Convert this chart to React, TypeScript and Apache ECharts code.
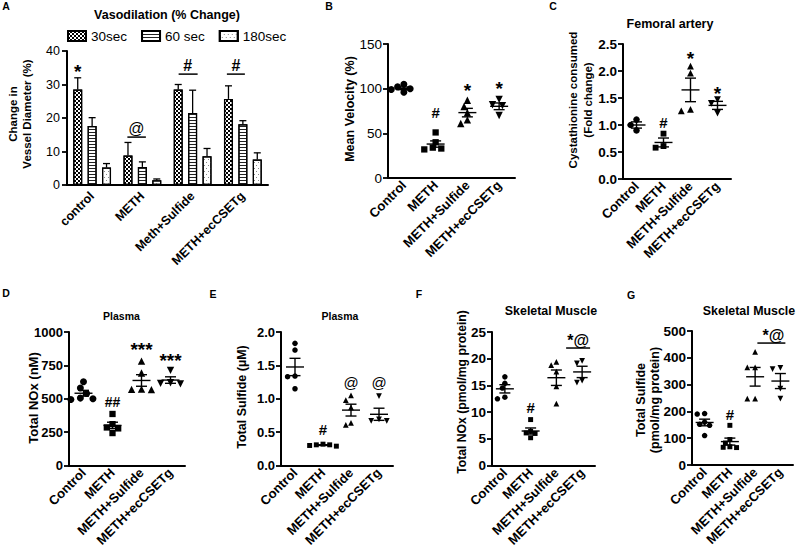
import React, { useEffect, useRef } from "react";
import * as echarts from "echarts";

const FONT = "'Liberation Sans', Arial, Helvetica, sans-serif";

// ---------- Panel A : vasodilation (bar + SEM) ----------
const categoriesA = ["control", "METH", "Meth+Sulfide", "METH+ecCSETg"];
const durationsA = ["30sec", "60 sec", "180sec"];
const vaso30sec = [28.5, 8.8, 28.5, 25.7];
const vaso30secErr = [3.5, 3.9, 1.5, 3.9];
const vaso60sec = [17.6, 5.4, 21.5, 18.1];
const vaso60secErr = [2.5, 1.5, 6.8, 1.1];
const vaso180sec = [5.2, 1.4, 8.6, 7.6];
const vaso180secErr = [1.2, 0.4, 2.3, 2.0];
const ticksA = [0, 10, 20, 30, 40];

// ---------- Scatter panels ----------
const groups = ["Control", "METH", "METH+Sulfide", "METH+ecCSETg"];

// B: Mean velocity (%)
const velocityControl = [105, 102, 99, 96, 100];
const velocityMeth = [51, 40, 33, 32, 34];
const velocitySulfide = [87, 80, 73, 65, 61];
const velocityEcCSETg = [88, 82, 81, 70];
const ticksB = [0, 50, 100, 150];

// C: Cystathionine consumed (fold change)
const cystControl = [1.1, 1.0, 0.9];
const cystMeth = [0.84, 0.61, 0.58];
const cystSulfide = [2.09, 1.96, 1.29, 1.26];
const cystEcCSETg = [1.47, 1.4, 1.22];
const ticksC = [0, 0.5, 1.0, 1.5, 2.0, 2.5];

// D: Plasma total NOx (nM)
const plasmaNoxControl = [628, 580, 540, 495, 500, 505];
const plasmaNoxMeth = [386, 310, 285, 278, 243];
const plasmaNoxSulfide = [782, 693, 570, 568, 572];
const plasmaNoxEcCSETg = [713, 615, 620, 612];
const ticksD = [0, 250, 500, 750, 1000];

// E: Plasma total sulfide (uM)
const plasmaSulfideControl = [1.83, 1.73, 1.34, 1.33, 1.15];
const plasmaSulfideMeth = [0.32, 0.31, 0.3, 0.31, 0.29];
const plasmaSulfideSulfide = [1.05, 0.98, 0.87, 0.61, 0.64];
const plasmaSulfideEcCSETg = [1.04, 0.67, 0.69, 0.67];
const ticksE = [0, 0.5, 1.0, 1.5, 2.0];

// F: Skeletal muscle total NOx (pmol/mg protein)
const muscleNoxControl = [16.6, 15.4, 14.5, 12.8, 12.5];
const muscleNoxMeth = [8.6, 6.4, 6.0, 5.2, 6.1];
const muscleNoxSulfide = [19.4, 18.8, 17.6, 14.8, 11.6];
const muscleNoxEcCSETg = [19.1, 19.6, 15.5, 15.9];
const ticksF = [0, 5, 10, 15, 20, 25];

// G: Skeletal muscle total sulfide (pmol/mg protein)
const muscleSulfideControl = [192, 190, 160, 152, 148, 110];
const muscleSulfideMeth = [148, 95, 82, 68, 66, 65];
const muscleSulfideSulfide = [422, 364, 364, 248, 248];
const muscleSulfideEcCSETg = [362, 358, 285, 248];
const ticksG = [0, 100, 200, 300, 400, 500];

// ---------- layout / style ----------
const BAR_W = 9;
const BAR_GAP = 0.6;
const MEAN_HALF = 9;
const CAP_HALF = 5.5;

const gridA = { left: 67, top: 51, width: 201, height: 134 };

const scatterPanels = [
  { grid: { left: 388, top: 44, width: 127, height: 134 }, ticks: ticksB, decimals: 0, size: 7, tickBold: false, tickSize: 13.5, sets: [velocityControl, velocityMeth, velocitySulfide, velocityEcCSETg] },
  { grid: { left: 623, top: 44, width: 108, height: 135 }, ticks: ticksC, decimals: 1, size: 6.5, tickBold: true, tickSize: 13.5, sets: [cystControl, cystMeth, cystSulfide, cystEcCSETg] },
  { grid: { left: 69, top: 332, width: 116, height: 134 }, ticks: ticksD, decimals: 0, size: 7, tickBold: true, tickSize: 13, sets: [plasmaNoxControl, plasmaNoxMeth, plasmaNoxSulfide, plasmaNoxEcCSETg] },
  { grid: { left: 281, top: 332, width: 112, height: 135 }, ticks: ticksE, decimals: 1, size: 5.5, tickBold: true, tickSize: 13, sets: [plasmaSulfideControl, plasmaSulfideMeth, plasmaSulfideSulfide, plasmaSulfideEcCSETg] },
  { grid: { left: 492, top: 332, width: 103, height: 135 }, ticks: ticksF, decimals: 0, size: 5.5, tickBold: true, tickSize: 13.5, sets: [muscleNoxControl, muscleNoxMeth, muscleNoxSulfide, muscleNoxEcCSETg] },
  { grid: { left: 692, top: 331, width: 101, height: 134 }, ticks: ticksG, decimals: 0, size: 5.5, tickBold: true, tickSize: 13.5, sets: [muscleSulfideControl, muscleSulfideMeth, muscleSulfideSulfide, muscleSulfideEcCSETg] },
];

const groupSymbols = ["circle", "rect", "triangle", "triangle"];
const groupRotate = [0, 0, 0, 180];
const groupScale = [1, 0.9, 1.05, 1.05];

const decals: any[] = [
  { symbol: "rect", symbolSize: 1, dashArrayX: [[2, 2], [0, 2, 2, 0]], dashArrayY: [2, 0], color: "#000", backgroundColor: "#fff" },
  { symbol: "rect", symbolSize: 1, dashArrayX: [1, 0], dashArrayY: [1, 1.5], color: "#222", backgroundColor: "#fff" },
  { symbol: "rect", symbolSize: 1, dashArrayX: [[1, 3], [0, 2, 1, 1]], dashArrayY: [1, 1.5], color: "#888", backgroundColor: "#fff" },
];

// annotation placement (value-space anchors + pixel nudges)
const annotations: any[] = [
  { grid: 0, cat: 0, value: 33.9, dx: -14.4, text: "*", size: 19 },
  { grid: 0, cat: 1, value: 17, dx: -6, text: "@", size: 16, bold: false, line: { value: 14.3, from: -15, to: 3.5 } },
  { grid: 0, cat: 2, value: 35.8, dx: -5, text: "#", size: 16, line: { value: 33.1, from: -14, to: 5 } },
  { grid: 0, cat: 3, value: 35.8, dx: -7, text: "#", size: 16, line: { value: 33.1, from: -16, to: 2 } },
  { grid: 1, cat: 1, value: 72.8, text: "#", size: 15 },
  { grid: 1, cat: 2, value: 98, text: "*", size: 19 },
  { grid: 1, cat: 3, value: 100.2, text: "*", size: 19 },
  { grid: 2, cat: 1, value: 1.04, text: "#", size: 15 },
  { grid: 2, cat: 2, value: 2.23, text: "*", size: 19 },
  { grid: 2, cat: 3, value: 1.58, text: "*", size: 19 },
  { grid: 3, cat: 1, value: 478, text: "##", size: 14 },
  { grid: 3, cat: 2, value: 869, text: "***", size: 19 },
  { grid: 3, cat: 3, value: 787, text: "***", size: 19 },
  { grid: 4, cat: 1, value: 0.544, text: "#", size: 15 },
  { grid: 4, cat: 2, value: 1.24, text: "@", size: 15, bold: false },
  { grid: 4, cat: 3, value: 1.25, text: "@", size: 15, bold: false },
  { grid: 5, cat: 1, value: 10.9, text: "#", size: 15 },
  { grid: 5, cat: 3, value: 23.45, dx: -4, text: "*@", size: 16, line: { value: 22.0, from: -16, to: 8 } },
  { grid: 6, cat: 1, value: 187, text: "#", size: 15 },
  { grid: 6, cat: 3, value: 485, dx: -7, text: "*@", size: 16, line: { value: 455, from: -23, to: 5 } },
];

const mean = (a: number[]) => a.reduce((s, v) => s + v, 0) / a.length;
const sem = (a: number[]) => {
  const m = mean(a);
  const sd = Math.sqrt(a.reduce((s, v) => s + (v - m) * (v - m), 0) / (a.length - 1));
  return sd / Math.sqrt(a.length);
};

// simple beeswarm: horizontal pixel offsets so markers barely overlap
function swarm(values: number[], pxPerUnit: number, size: number): number[] {
  const order = values.map((_, i) => i).sort((a, b) => values[b] - values[a]);
  const placed: { x: number; y: number }[] = [];
  const offsets = new Array(values.length).fill(0);
  const step = size * 0.9;
  const minD = size * 0.95;
  const cands = [0, -0.5, 0.5, -1, 1, -1.5, 1.5, -2, 2, -2.5, 2.5, -3, 3].map((k) => k * step);
  for (const i of order) {
    const y = values[i] * pxPerUnit;
    for (const x of cands) {
      if (placed.every((p) => Math.hypot(p.x - x, p.y - y) >= minD)) {
        offsets[i] = x;
        placed.push({ x, y });
        break;
      }
    }
  }
  return offsets;
}

function valueAxis(gridIndex: number, ticks: number[], decimals: number, fontSize: number, bold: boolean, margin: number) {
  return {
    type: "value",
    gridIndex,
    min: ticks[0],
    max: ticks[ticks.length - 1],
    interval: ticks[1] - ticks[0],
    axisLine: { show: true, lineStyle: { color: "#000", width: 2 } },
    axisTick: { show: true, length: 5, lineStyle: { color: "#000", width: 1.8 } },
    splitLine: { show: false },
    axisLabel: {
      color: "#000",
      fontFamily: FONT,
      fontSize,
      fontWeight: bold ? "bold" : "normal",
      margin,
      formatter: (v: number) => v.toFixed(decimals),
    },
  };
}

function categoryAxis(gridIndex: number, data: string[], fontSize: number, margin: number) {
  return {
    type: "category",
    gridIndex,
    data,
    boundaryGap: true,
    axisLine: { show: true, onZero: false, lineStyle: { color: "#000", width: 2 } },
    axisTick: { show: false },
    axisLabel: {
      interval: 0,
      rotate: 45,
      color: "#000",
      fontFamily: FONT,
      fontWeight: "bold",
      fontSize,
      margin,
    },
  };
}

function buildOption() {
  const grids: any[] = [gridA, ...scatterPanels.map((p) => p.grid)];
  const xAxis: any[] = [categoryAxis(0, categoriesA, 12.5, 9)];
  const yAxis: any[] = [valueAxis(0, ticksA, 0, 12.5, false, 7)];
  const series: any[] = [];

  const barSets = [vaso30sec, vaso60sec, vaso180sec];
  const errSets = [vaso30secErr, vaso60secErr, vaso180secErr];
  barSets.forEach((vals, k) => {
    series.push({
      type: "bar",
      name: durationsA[k],
      xAxisIndex: 0,
      yAxisIndex: 0,
      data: vals,
      barWidth: BAR_W,
      barGap: `${BAR_GAP * 100}%`,
      itemStyle: { color: "#fff", borderColor: "#000", borderWidth: 1.2, decal: decals[k] },
      z: 2,
    });
  });
  const errData: number[][] = [];
  barSets.forEach((vals, k) => vals.forEach((v, i) => errData.push([i, v, errSets[k][i], k])));
  series.push({
    type: "custom",
    xAxisIndex: 0,
    yAxisIndex: 0,
    data: errData,
    z: 3,
    renderItem: (_params: any, api: any) => {
      const c = api.value(0);
      const v = api.value(1);
      const e = api.value(2);
      const k = api.value(3);
      const dx = (k - 1) * BAR_W * (1 + BAR_GAP);
      const p0 = api.coord([c, v]);
      const p1 = api.coord([c, v + e]);
      const x = p0[0] + dx;
      const st = { stroke: "#000", lineWidth: 1.3 };
      return {
        type: "group",
        children: [
          { type: "line", shape: { x1: x, y1: p0[1], x2: x, y2: p1[1] }, style: st },
          { type: "line", shape: { x1: x - 3.5, y1: p1[1], x2: x + 3.5, y2: p1[1] }, style: st },
        ],
      };
    },
  });

  scatterPanels.forEach((p, idx) => {
    const g = idx + 1;
    xAxis.push(categoryAxis(g, groups, 13, 5));
    yAxis.push(valueAxis(g, p.ticks, p.decimals, p.tickSize, p.tickBold, 6));
    const pxPerUnit = p.grid.height / (p.ticks[p.ticks.length - 1] - p.ticks[0]);
    p.sets.forEach((vals, gi) => {
      const size = p.size * groupScale[gi];
      const offs = swarm(vals, pxPerUnit, size);
      series.push({
        type: "scatter",
        xAxisIndex: g,
        yAxisIndex: g,
        symbol: groupSymbols[gi],
        symbolRotate: groupRotate[gi],
        symbolSize: size,
        itemStyle: { color: "#000", opacity: 1 },
        data: vals.map((v, j) => ({ value: [gi, v], symbolOffset: [offs[j], 0] })),
        z: 2,
      });
    });
    series.push({
      type: "custom",
      xAxisIndex: g,
      yAxisIndex: g,
      z: 4,
      data: p.sets.map((vals, gi) => [gi, mean(vals), sem(vals)]),
      renderItem: (_params: any, api: any) => {
        const c = api.value(0);
        const m = api.value(1);
        const s = api.value(2);
        const pm = api.coord([c, m]);
        const pt = api.coord([c, m + s]);
        const pb = api.coord([c, m - s]);
        const st = { stroke: "#000", lineWidth: 1.4 };
        return {
          type: "group",
          children: [
            { type: "line", shape: { x1: pm[0] - MEAN_HALF, y1: pm[1], x2: pm[0] + MEAN_HALF, y2: pm[1] }, style: st },
            { type: "line", shape: { x1: pm[0], y1: pt[1], x2: pm[0], y2: pb[1] }, style: st },
            { type: "line", shape: { x1: pm[0] - CAP_HALF, y1: pt[1], x2: pm[0] + CAP_HALF, y2: pt[1] }, style: st },
            { type: "line", shape: { x1: pm[0] - CAP_HALF, y1: pb[1], x2: pm[0] + CAP_HALF, y2: pb[1] }, style: st },
          ],
        };
      },
    });
  });

  return {
    animation: false,
    backgroundColor: "#fff",
    grid: grids.map((g) => ({ ...g, containLabel: false })),
    legend: {
      data: durationsA,
      left: 67,
      top: 29,
      padding: 0,
      itemWidth: 18,
      itemHeight: 10,
      itemGap: 14,
      icon: "rect",
      selectedMode: false,
      textStyle: { color: "#000", fontFamily: FONT, fontSize: 13.5 },
    },
    xAxis,
    yAxis,
    series,
  };
}

function text(x: number, y: number, str: string, fontSize: number, bold = true, extra: any = {}) {
  return {
    type: "text",
    x,
    y,
    silent: true,
    z: 10,
    ...extra,
    style: {
      text: str,
      fill: "#000",
      fontFamily: FONT,
      fontSize,
      fontWeight: bold ? "bold" : "normal",
      textAlign: "center",
      textVerticalAlign: "middle",
      align: "center",
      verticalAlign: "middle",
      ...(extra.style || {}),
    },
  };
}

const panelLetters: [string, number, number][] = [
  ["A", 6, 6], ["B", 329, 6], ["C", 553, 6], ["D", 6, 293], ["E", 213, 294], ["F", 419, 294], ["G", 631, 295],
];
const titles: [string, number, number, number][] = [
  ["Vasodilation (% Change)", 167, 15, 12.5],
  ["Femoral artery", 670, 23.5, 12.5],
  ["Plasma", 121.5, 316, 10.5],
  ["Plasma", 340, 316, 10.5],
  ["Skeletal Muscle", 551, 311, 12.4],
  ["Skeletal Muscle", 749, 311, 12.4],
];
const yTitles: [string, number, number, number, number][] = [
  ["Change in\nVessel Diameter (%)", 20, 114, 11.5, 14],
  ["Mean Velocity (%)", 350, 109, 12.5, 14],
  ["Cystathionine consumed\n(Fold change)", 580.5, 100, 11.5, 15],
  ["Total NOx (nM)", 33, 398, 13, 14],
  ["Total Sulfide (µM)", 242, 397, 12.5, 14],
  ["Total NOx (pmol/mg protein)", 462, 392, 12.2, 14],
  ["Total Sulfide\n(pmol/mg protein)", 648, 400, 12.5, 14],
];

function buildGraphics(chart: any) {
  const els: any[] = [];
  panelLetters.forEach(([t, x, y]) => els.push(text(x, y, t, 10.5)));
  titles.forEach(([t, x, y, fs]) => els.push(text(x, y, t, fs)));
  yTitles.forEach(([t, x, y, fs, lh]) =>
    els.push(text(x, y, t, fs, true, { rotation: Math.PI / 2, style: { lineHeight: lh } }))
  );
  annotations.forEach((a) => {
    const p = chart.convertToPixel({ gridIndex: a.grid }, [a.cat, a.value]) as number[];
    els.push(text(p[0] + (a.dx || 0), p[1], a.text, a.size, a.bold !== false));
    if (a.line) {
      const q = chart.convertToPixel({ gridIndex: a.grid }, [a.cat, a.line.value]) as number[];
      els.push({
        type: "line",
        silent: true,
        z: 10,
        shape: { x1: q[0] + a.line.from, y1: q[1], x2: q[0] + a.line.to, y2: q[1] },
        style: { stroke: "#000", lineWidth: 1.5 },
      });
    }
  });
  return els;
}

export default function App() {
  const ref = useRef<HTMLDivElement>(null);
  useEffect(() => {
    if (!ref.current) return;
    const chart = echarts.init(ref.current, null, { renderer: "svg" });
    chart.setOption(buildOption() as any);
    chart.setOption({ graphic: buildGraphics(chart) } as any);
    return () => chart.dispose();
  }, []);
  return (
    <div
      ref={ref}
      style={{ position: "absolute", left: 0, top: 0, width: 798, height: 549, background: "#fff" }}
    />
  );
}
